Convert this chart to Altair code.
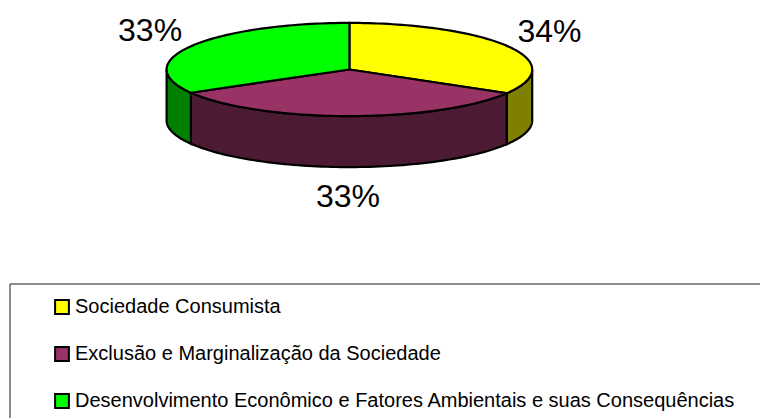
import numpy as np
import pandas as pd
import altair as alt

names = ["Sociedade Consumista", "Exclusão e Marginalização da Sociedade",
         "Desenvolvimento Econômico e Fatores Ambientais e suas Consequências"]
shares = [33.5, 33.2, 33.3]
labels = ["34%", "33%", "33%"]
top_colors = ["#ffff00", "#993366", "#00ff00"]
wall_colors = ["#808000", "#4d1a33", "#008000"]

# pie geometry, in page pixels (scales map them 1:1)
cx, cy, a, b, depth = 349.4, 69.5, 182.8, 46.6, 51.0
W, H = 752, 410
xs = alt.Scale(domain=[8, 8 + W], range=[0, W])
ys = alt.Scale(domain=[8, 8 + H], range=[0, H])

edges = np.concatenate([[0], np.cumsum(shares)]) / sum(shares) * 360.0
tops, walls, texts = [], [], []


def ex(t):
    return cx + a * np.sin(np.radians(t))


def ey(t):
    return cy - b * np.cos(np.radians(t))


for i, name in enumerate(names):
    t0, t1 = edges[i], edges[i + 1]
    arc = np.linspace(t0, t1, 80)
    xp = np.concatenate([[cx], ex(arc)])
    yp = np.concatenate([[cy], ey(arc)])
    for k, (px, py) in enumerate(zip(xp, yp)):
        tops.append({"name": name, "k": k, "px": px, "py": py})
    w0, w1 = max(t0, 90), min(t1, 270)
    arc2 = np.linspace(w0, w1, 80)
    xw = np.concatenate([ex(arc2), ex(arc2[::-1])])
    yw = np.concatenate([ey(arc2), ey(arc2[::-1]) + depth])
    for k, (px, py) in enumerate(zip(xw, yw)):
        walls.append({"name": name, "k": k, "px": px, "py": py})
    mid = (t0 + t1) / 2
    c = np.cos(np.radians(mid))
    texts.append({"label": labels[i],
                  "px": cx + 1.26 * a * np.sin(np.radians(mid)),
                  "py": cy - 1.63 * b * c + 1.01 * depth * max(0, -c)})

enc_x = alt.X("px:Q", scale=xs, axis=None)
enc_y = alt.Y("py:Q", scale=ys, axis=None)

wall_layer = alt.Chart(pd.DataFrame(walls)).mark_line(
    filled=True, interpolate="linear-closed", strokeWidth=2.2, clip=True
).encode(
    x=enc_x, y=enc_y, order="k:Q", detail="name:N",
    fill=alt.Fill("name:N", scale=alt.Scale(domain=[n + " " for n in names], range=wall_colors), legend=None),
    stroke=alt.value("black"),
).transform_calculate(name="datum.name + ' '")

top_layer = alt.Chart(pd.DataFrame(tops)).mark_line(
    filled=True, interpolate="linear-closed", strokeWidth=2.2, clip=True
).encode(
    x=enc_x, y=enc_y, order="k:Q", detail="name:N",
    fill=alt.Fill(
        "name:N",
        scale=alt.Scale(domain=names, range=top_colors),
        legend=alt.Legend(
            title=None, orient="none", legendX=44, legendY=289,
            symbolType="square", symbolSize=190, symbolStrokeColor="black",
            symbolStrokeWidth=2, labelFont="Liberation Sans", labelFontSize=20,
            labelColor="black", labelLimit=800, rowPadding=25, labelOffset=3,
            symbolOffset=0, padding=0,
        ),
    ),
    stroke=alt.value("black"),
)

text_layer = alt.Chart(pd.DataFrame(texts)).mark_text(
    font="Liberation Sans", fontSize=32, color="black", align="center", baseline="middle"
).encode(x=enc_x, y=enc_y, text="label:N")

box_top = alt.Chart(pd.DataFrame({"px": [10], "px2": [768], "py": [284]})).mark_rule(
    color="#666666", strokeWidth=1.5
).encode(x=enc_x, x2="px2:Q", y=enc_y)
box_left = alt.Chart(pd.DataFrame({"px": [10], "py": [284], "py2": [418]})).mark_rule(
    color="#666666", strokeWidth=1.5
).encode(x=enc_x, y=enc_y, y2="py2:Q")

chart = alt.layer(box_top, box_left, wall_layer, top_layer, text_layer).resolve_scale(
    fill="independent"
).properties(width=W, height=H, padding=0, autosize=alt.AutoSizeParams(type="none")).configure_view(stroke=None)

chart.save("out.html", embed_options={"renderer": "svg", "actions": False})
